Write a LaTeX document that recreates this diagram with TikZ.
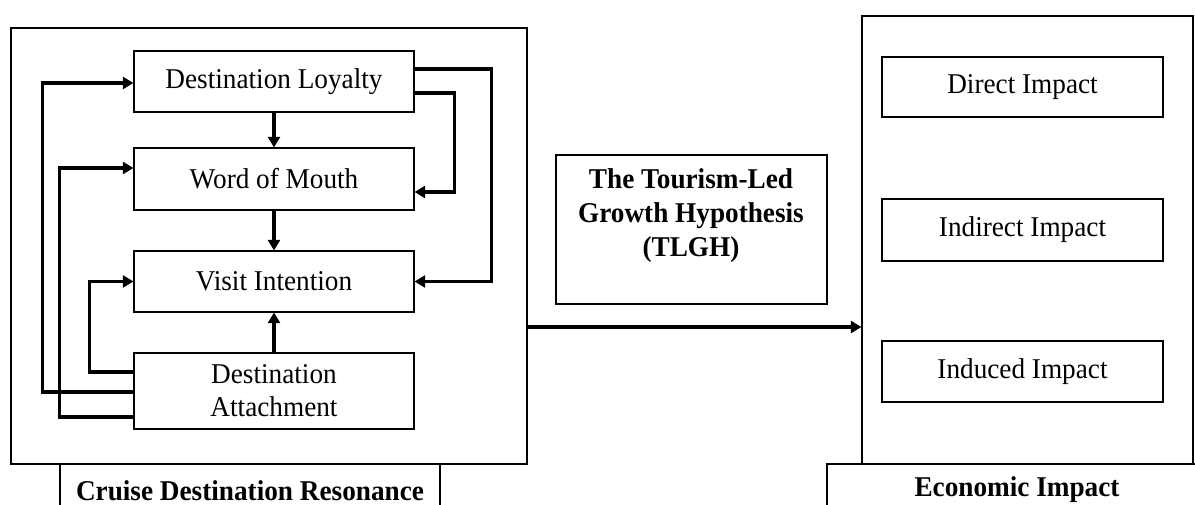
\documentclass[tikz,border=0pt]{standalone}
\usepackage{fontspec}
\setmainfont{Liberation Serif}[FakeStretch=0.95]
\usetikzlibrary{arrows.meta,fit}
\begin{document}
\begin{tikzpicture}[x=0.75pt,y=-0.75pt,
  frame/.style={draw=black,line width=0.8pt,inner sep=0pt},
  box/.style={draw=black,line width=0.8pt,inner sep=0pt},
  txt/.style={align=center,font=\fontsize{21.5}{24.75}\selectfont},
  arr/.style={line width=2.4pt,-{Triangle[length=8pt,width=9pt]}},
  ln/.style={line width=0.8pt},
  lbl/.style={font=\fontsize{21.5}{25.5}\selectfont\bfseries}]
\useasboundingbox (0,0) rectangle (1195,505);
% outer frames
\node[frame,fit={(11,28) (527,464)}] (crd) {};
\node[frame,fit={(862,16) (1193,464)}] (eco) {};
% label boxes
\draw[ln] (60,505) -- (60,464) -- (440,464) -- (440,505);
\draw[ln] (827,505) -- (827,464) -- (1195,464);
\node[lbl] (crdl) at (250,491) {Cruise Destination Resonance};
\node[lbl] (ecol) at (1017,490) {Economic Impact};
% left nodes
\node[box,fit={(134,51) (414,112)},label={[txt]center:Destination Loyalty}] (DL) {};
\node[box,fit={(134,148) (414,210)},label={[txt]center:Word of Mouth}] (WM) {};
\node[box,fit={(134,251) (414,312)},label={[txt]center:Visit Intention}] (VI) {};
\node[box,fit={(134,353) (414,429)},label={[txt]center:Destination\\Attachment}] (DA) {};
% middle
\node[box,fit={(556,155) (827,304)}] (TL) {};
\node[lbl,align=center] (TLt) at (691,216) {The Tourism-Led\\Growth Hypothesis\\(TLGH)};
% right nodes
\node[box,fit={(882,57) (1163,117)},label={[txt]center:Direct Impact}] (DI) {};
\node[box,fit={(882,199) (1163,261)},label={[txt]center:Indirect Impact}] (II) {};
\node[box,fit={(882,341) (1163,402)},label={[txt]center:Induced Impact}] (IN) {};
% vertical arrows
\draw[arr] (DL.south) -- (WM.north);
\draw[arr] (WM.south) -- (VI.north);
\draw[arr] (DA.north) -- (VI.south);
% left feedback
\draw[arr] ([shift={(0,-19)}]DA.west) -- ++(-44,0) |- (VI.west);
\draw[arr] ([shift={(0,1)}]DA.west) -- ++(-91,0) |- ([shift={(0,1.5)}]DL.west);
\draw[arr] ([shift={(0,26)}]DA.west) -- ++(-74,0) |- ([shift={(0,-11)}]WM.west);
% right feedback
\draw[arr] ([shift={(0,-12.5)}]DL.east) -- ++(77,0) |- (VI.east);
\draw[arr] ([shift={(0,11.5)}]DL.east) -- ++(40,0) |- ([shift={(0,13)}]WM.east);
% main arrow
\coordinate (m1) at (527,327);
\draw[arr] (m1) -- (m1 -| eco.west);
\end{tikzpicture}
\end{document}
